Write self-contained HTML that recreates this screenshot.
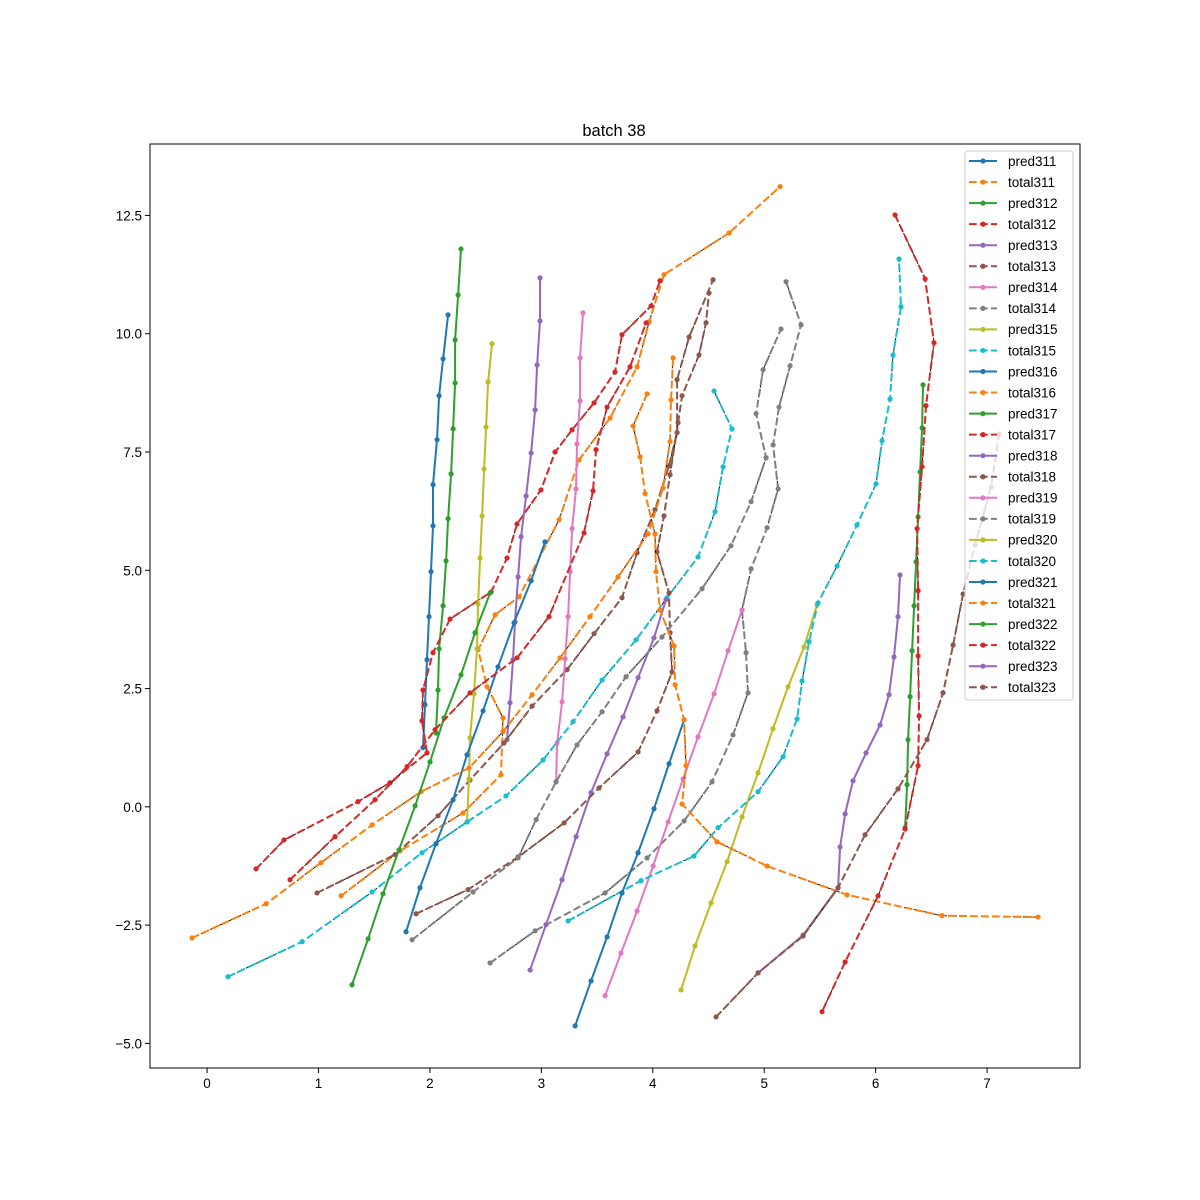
<!DOCTYPE html>
<html><head><meta charset="utf-8"><style>
body{margin:0;background:#fff;}
svg{display:block;font-family:"Liberation Sans","DejaVu Sans",sans-serif;}
</style></head><body>
<svg id="chart" width="1200" height="1200" viewBox="0 0 1200 1200">
<rect x="0" y="0" width="1200" height="1200" fill="#fff"/>
<text x="614" y="136" font-size="16.5" text-anchor="middle">batch 38</text>
<g id="marks"></g>
<g id="axes"></g>
<g id="legend"></g>
</svg>
<script>
const seriesNames = ["pred311","total311","pred312","total312","pred313","total313","pred314","total314","pred315","total315","pred316","total316","pred317","total317","pred318","total318","pred319","total319","pred320","total320","pred321","total321","pred322","total322","pred323","total323"];
const seriesColors = ["#1f77b4","#ff7f0e","#2ca02c","#d62728","#9467bd","#8c564b","#e377c2","#7f7f7f","#bcbd22","#17becf"];
const xTicks = [0,1,2,3,4,5,6,7];
const yTicks = [-5,-2.5,0,2.5,5,7.5,10,12.5];
const yTickLabels = ["−5.0","−2.5","0.0","2.5","5.0","7.5","10.0","12.5"];

const pred311X = [2.163,2.118,2.082,2.064,2.028,2.028,2.010,1.992,1.974,1.956,1.938];
const pred311Y = [10.40,9.47,8.69,7.76,6.81,5.94,4.97,4.02,3.11,2.16,1.25];
const total311X = [1.203,1.732,2.297,2.638,2.656,2.513,2.432,2.585,2.800,3.159,3.338,3.617,3.859,3.967,4.101,4.685,5.142];
const total311Y = [-1.88,-0.93,-0.13,0.68,1.88,2.54,3.32,4.06,4.44,6.07,7.33,8.22,9.30,10.25,11.25,12.13,13.11];
const pred312X = [2.279,2.253,2.226,2.226,2.208,2.190,2.163,2.145,2.118,2.082,2.073,2.055];
const pred312Y = [11.79,10.82,9.87,8.96,7.99,7.04,6.09,5.20,4.25,3.34,2.47,1.56];
const total312X = [0.440,0.691,1.355,1.642,1.974,1.929,1.938,2.028,2.181,2.549,2.692,2.782,2.997,3.123,3.276,3.473,3.661,3.724,3.985,4.065];
const total312Y = [-1.31,-0.70,0.11,0.51,1.14,1.82,2.47,3.26,3.97,4.54,5.26,5.98,6.70,7.50,7.97,8.54,9.19,9.98,10.59,11.12];
const pred313X = [2.988,2.988,2.962,2.944,2.908,2.863,2.818,2.791,2.764,2.746,2.719,2.692];
const pred313Y = [11.18,10.27,9.34,8.39,7.48,6.57,5.71,4.86,3.91,3.11,2.20,1.42];
const total313X = [0.987,1.687,2.073,2.360,2.665,2.917,3.231,3.473,3.724,3.859,4.020,4.146,4.218,4.218,4.326,4.541];
const total313Y = [-1.82,-1.01,-0.19,0.57,1.35,2.13,2.90,3.66,4.42,5.37,6.28,7.21,7.91,9.03,9.93,11.14];
const pred314X = [3.374,3.347,3.347,3.320,3.311,3.276,3.258,3.240,3.213,3.186,3.141,3.132];
const pred314Y = [10.44,9.49,8.58,7.67,6.72,5.88,4.97,4.02,3.13,2.22,1.35,0.53];
const total314X = [2.540,2.944,3.572,3.949,4.281,4.532,4.720,4.855,4.837,4.801,4.882,5.026,5.125,5.080,5.133,5.232,5.331,5.196];
const total314Y = [-3.30,-2.62,-1.82,-1.08,-0.30,0.53,1.52,2.41,3.26,4.16,5.03,5.90,6.72,7.65,8.45,9.32,10.19,11.10];
const pred315X = [2.558,2.522,2.504,2.486,2.468,2.450,2.432,2.423,2.396,2.360,2.351,2.333];
const pred315Y = [9.79,8.98,8.03,7.14,6.15,5.26,4.29,3.34,2.39,1.46,0.59,-0.32];
const total315X = [0.188,0.853,1.481,1.929,2.333,2.683,3.015,3.285,3.545,3.850,4.128,4.406,4.559,4.631,4.711,4.550];
const total315Y = [-3.59,-2.85,-1.80,-0.97,-0.32,0.23,0.99,1.80,2.68,3.53,4.42,5.28,6.24,7.19,7.99,8.79];
const pred316X = [1.786,1.911,2.055,2.208,2.333,2.477,2.611,2.755,2.908,3.033];
const pred316Y = [-2.64,-1.71,-0.78,0.15,1.10,2.03,2.96,3.89,4.78,5.60];
const total316X = [-0.135,0.529,1.023,1.481,1.920,2.351,2.656,2.917,3.168,3.437,3.688,3.958,4.092,4.155,4.164,4.182];
const total316Y = [-2.77,-2.05,-1.18,-0.38,0.32,0.82,1.59,2.37,3.15,4.02,4.86,5.77,6.74,7.72,8.60,9.49];
const pred317X = [1.301,1.445,1.579,1.723,1.867,2.001,2.127,2.279,2.405,2.540];
const pred317Y = [-3.76,-2.79,-1.84,-0.91,0.02,0.95,1.88,2.79,3.68,4.52];
const total317X = [0.745,1.149,1.508,1.795,2.046,2.360,2.782,3.069,3.383,3.464,3.491,3.590,3.796,3.940];
const total317Y = [-1.54,-0.63,0.15,0.85,1.63,2.41,3.15,4.02,5.79,6.68,7.55,8.45,9.30,10.23];
const pred318X = [2.899,3.042,3.186,3.312,3.446,3.590,3.733,3.868,4.011,4.119];
const pred318Y = [-3.45,-2.49,-1.54,-0.63,0.30,1.12,1.90,2.73,3.57,4.38];
const total318X = [1.876,2.342,2.791,3.204,3.518,3.868,4.038,4.173,4.155,4.146,4.038,4.101,4.155,4.227,4.263,4.415,4.478,4.505];
const total318Y = [-2.26,-1.75,-1.06,-0.34,0.40,1.16,2.03,2.85,3.68,4.52,5.39,6.15,7.02,8.12,8.69,9.55,10.23,10.86];
const pred319X = [3.572,3.715,3.859,4.003,4.137,4.272,4.406,4.550,4.676,4.801];
const pred319Y = [-3.99,-3.09,-2.20,-1.25,-0.32,0.59,1.48,2.39,3.30,4.16];
const total319X = [1.840,2.387,2.791,2.953,3.132,3.320,3.545,3.760,4.083,4.442,4.702,4.882,5.017,4.927,4.990,5.151];
const total319Y = [-2.81,-1.80,-1.08,-0.27,0.53,1.31,2.01,2.75,3.59,4.61,5.52,6.45,7.38,8.31,9.24,10.10];
const pred320X = [4.254,4.379,4.523,4.667,4.801,4.945,5.079,5.214,5.358,5.474];
const pred320Y = [-3.87,-2.94,-2.03,-1.16,-0.21,0.72,1.65,2.54,3.38,4.27];
const total320X = [3.240,3.895,4.370,4.586,4.945,5.169,5.295,5.340,5.402,5.483,5.654,5.833,6.004,6.058,6.129,6.156,6.228,6.210];
const total320Y = [-2.41,-1.56,-1.04,-0.44,0.32,1.06,1.86,2.66,3.49,4.31,5.09,5.96,6.83,7.74,8.62,9.55,10.57,11.58];
const pred321X = [3.303,3.446,3.590,3.724,3.868,4.011,4.146,4.281];
const pred321Y = [-4.63,-3.68,-2.75,-1.82,-0.97,-0.04,0.91,1.84];
const total321X = [3.949,3.823,3.886,3.931,4.020,4.029,4.065,4.191,4.200,4.281,4.298,4.263,4.577,5.026,5.743,6.596,7.458];
const total321Y = [8.73,8.05,7.40,6.62,5.77,4.97,4.16,3.40,2.58,1.84,0.87,0.06,-0.74,-1.25,-1.86,-2.30,-2.33];
const pred322X = [6.425,6.417,6.399,6.381,6.363,6.345,6.327,6.309,6.291,6.282,6.264];
const pred322Y = [8.92,8.01,7.08,6.13,5.18,4.25,3.30,2.33,1.42,0.47,-0.44];
const total322X = [6.174,6.444,6.524,6.452,6.417,6.372,6.381,6.381,6.390,6.381,6.264,6.022,5.726,5.519];
const total322Y = [12.51,11.16,9.81,8.48,7.19,5.88,4.57,3.19,1.92,0.87,-0.47,-1.88,-3.28,-4.33];
const pred323X = [4.945,5.349,5.663,5.681,5.726,5.797,5.914,6.040,6.120,6.165,6.201,6.219];
const pred323Y = [-3.51,-2.71,-1.71,-0.85,-0.15,0.55,1.14,1.73,2.37,3.17,4.02,4.90];
const total323X = [4.568,4.945,5.349,5.663,5.905,6.201,6.461,6.605,6.695,6.785,6.892,7.036,7.108];
const total323Y = [-4.44,-3.51,-2.73,-1.71,-0.59,0.38,1.42,2.41,3.42,4.50,5.54,6.76,7.88];

const seriesX = [pred311X,total311X,pred312X,total312X,pred313X,total313X,pred314X,total314X,pred315X,total315X,pred316X,total316X,pred317X,total317X,pred318X,total318X,pred319X,total319X,pred320X,total320X,pred321X,total321X,pred322X,total322X,pred323X,total323X];
const seriesY = [pred311Y,total311Y,pred312Y,total312Y,pred313Y,total313Y,pred314Y,total314Y,pred315Y,total315Y,pred316Y,total316Y,pred317Y,total317Y,pred318Y,total318Y,pred319Y,total319Y,pred320Y,total320Y,pred321Y,total321Y,pred322Y,total322Y,pred323Y,total323Y];

const L=150,R=1080,T=144,B=1068;
const xMin=-0.512,xMax=7.834,yMin=-5.52,yMax=14.01;
function sx(v){return L+(v-xMin)/(xMax-xMin)*(R-L);}
function sy(v){return B-(v-yMin)/(yMax-yMin)*(B-T);}
const NS="http://www.w3.org/2000/svg";
function mk(tag,attrs,parent){const e=document.createElementNS(NS,tag);for(const k in attrs)e.setAttribute(k,attrs[k]);parent.appendChild(e);return e;}

const marks=document.getElementById('marks');
seriesNames.forEach((name,i)=>{
  const col=seriesColors[i%10];
  const isTotal=name.startsWith('total');
  const pts=seriesX[i].map((x,j)=>sx(x).toFixed(1)+','+sy(seriesY[i][j]).toFixed(1)).join(' ');
  const g=mk('g',{},marks);
  
  
  if(isTotal){
    const bl=mk('polyline',{points:pts,fill:'none',stroke:'#000','stroke-width':0.9,'stroke-dasharray':'4,6'},g);
    
    
  }
  const pl=mk('polyline',{points:pts,fill:'none',stroke:col,'stroke-width':2,'stroke-dasharray':isTotal?'7.7,3.3':'none','stroke-linejoin':'round'},g);
  
  
  seriesX[i].forEach((x,j)=>{
    const c=mk('circle',{cx:sx(x),cy:sy(seriesY[i][j]),r:2.6,fill:col},g);
    
    
  });
});

const axes=document.getElementById('axes');
const frame=mk('rect',{x:L,y:T,width:R-L,height:B-T,fill:'none',stroke:'#000','stroke-width':1},axes);


xTicks.forEach(v=>{
  const x=sx(v);
  const t=mk('line',{x1:x,y1:B,x2:x,y2:B+5,stroke:'#000','stroke-width':1},axes);
  
  
  const lb=mk('text',{x:x,y:B+20,'font-size':13.5,'text-anchor':'middle'},axes);
  lb.textContent=String(v);
  
  
});
yTicks.forEach((v,i)=>{
  const y=sy(v);
  const t=mk('line',{x1:L-5,y1:y,x2:L,y2:y,stroke:'#000','stroke-width':1},axes);
  
  
  const lb=mk('text',{x:L-8,y:y+5,'font-size':13.5,'text-anchor':'end'},axes);
  lb.textContent=yTickLabels[i];
  
  
});

const leg=document.getElementById('legend');
const box=mk('rect',{x:965,y:151,width:108,height:549,rx:3,fill:'#fff','fill-opacity':0.8,stroke:'#ccc','stroke-width':1},leg);


seriesNames.forEach((name,i)=>{
  const col=seriesColors[i%10];
  const y=161+i*21.05;
  const g=mk('g',{},leg);
  
  
  mk('line',{x1:969,y1:y,x2:997,y2:y,stroke:col,'stroke-width':2,'stroke-dasharray':name.startsWith('total')?'7.7,3.3':'none'},g);
  mk('circle',{cx:983,cy:y,r:2.6,fill:col},g);
  const tx=mk('text',{x:1008,y:y+4.8,'font-size':13.5},g);
  tx.textContent=name;
});
</script>
</body></html>
